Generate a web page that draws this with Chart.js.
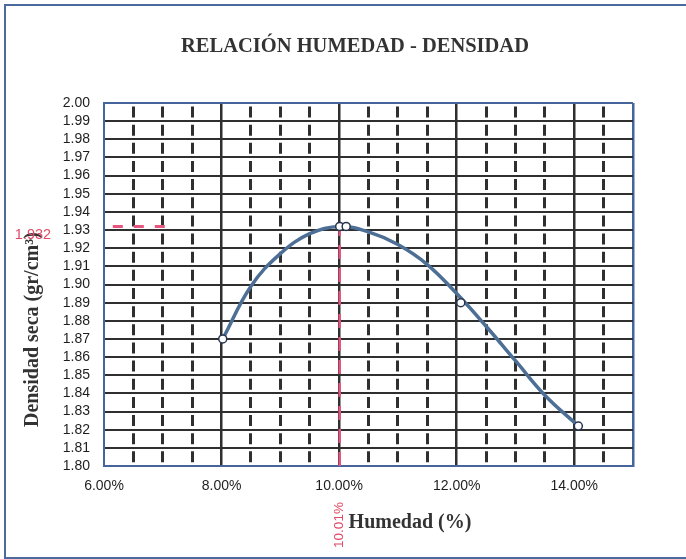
<!DOCTYPE html>
<html>
<head>
<meta charset="utf-8">
<script src="https://cdn.jsdelivr.net/npm/chart.js@4.4.1/dist/chart.umd.min.js"></script>
<style>
  html, body { margin:0; padding:0; background:#fff; overflow:hidden; }
  #wrap  { position:relative; width:686px; height:559px; }
  #frame { position:absolute; left:4px; top:4px; width:700px; height:555px; border:2px solid #4b6aa0; box-sizing:border-box; }
  canvas { position:absolute; left:0; top:0; }
</style>
</head>
<body>
<div id="wrap">
  <div id="frame"></div>
  <canvas id="chart" width="686" height="559"></canvas>
</div>
<script>
// ── Data ────────────────────────────────────────────────────
const humedad  = [8.02, 10.01, 10.12, 12.07, 14.07];      // puntos de ensayo (%)
const densidad = [1.870, 1.932, 1.932, 1.890, 1.822];      // gr/cm3

// curva de ajuste
const curvaHum  = [8.02, 8.5, 9.0, 9.5, 10.0, 10.5, 11.0, 11.5, 12.0, 12.5, 13.0, 13.5, 14.07];
const curvaDens = [1.870, 1.899, 1.917, 1.928, 1.932, 1.929, 1.922, 1.911, 1.895, 1.877, 1.858, 1.839, 1.822];

const humOptima  = 10.01;
const densMaxima = 1.932;
const marcaHum   = [6.15, 7.12];   // trazo rojo junto al eje y

const xTickVals = [6, 8, 10, 12, 14, 15];
const yMin = 1.80, yMax = 2.00, yStep = 0.01;
const xMin = 6, xMax = 15, xMinorStep = 0.5;

const TITULO  = 'RELACIÓN HUMEDAD - DENSIDAD';
const TIT_Y   = 'Densidad seca (gr/cm³)';
const TIT_X   = 'Humedad (%)';

// ── Styles ──────────────────────────────────────────────────
const C = { blue:'#45659c', grid:'#2f2f2f', line:'#4d6f96', mark:'#28344f', red:'#e8557e', redTxt:'#e04a66', txt:'#1e1e1e' };
const SANS  = '"Liberation Sans", Arial, sans-serif';
const SERIF = '"Liberation Serif", "Times New Roman", serif';

const pts = (xs, ys) => xs.map((x, i) => ({ x, y: ys[i] }));

const textos = {
  id: 'textos',
  afterDraw(chart) {
    const { ctx, scales: { x, y } } = chart;
    ctx.save();
    ctx.fillStyle = '#333';
    ctx.textAlign = 'center';
    ctx.textBaseline = 'middle';
    ctx.font = 'bold 20.5px ' + SERIF;
    ctx.fillText(TITULO, 355, 47);

    ctx.font = 'bold 20px ' + SERIF;
    ctx.fillText(TIT_X, 410, 523);

    // titulo eje y: empieza abajo en y=427
    ctx.save();
    ctx.textAlign = 'left';
    ctx.translate(33, 427);
    ctx.rotate(-Math.PI / 2);
    ctx.fillText(TIT_Y, 0, 0);
    ctx.restore();

    // anotaciones rojas
    ctx.fillStyle = C.redTxt;
    ctx.font = '14.5px ' + SANS;
    ctx.fillText(densMaxima.toFixed(3), 33, y.getPixelForValue(densMaxima) + 9);

    ctx.save();
    ctx.translate(x.getPixelForValue(humOptima), 525);
    ctx.rotate(-Math.PI / 2);
    ctx.font = '13.5px ' + SANS;
    ctx.fillText(humOptima.toFixed(2) + '%', 0, 0);
    ctx.restore();
    ctx.restore();
  }
};

new Chart(document.getElementById('chart'), {
  type: 'scatter',
  data: {
    datasets: [
      { data: pts(humedad, densidad), showLine:false, pointRadius:4, pointHoverRadius:4,
        pointBackgroundColor:'#fff', pointBorderColor:C.mark, pointBorderWidth:1.5, order:0 },
      { data: pts(curvaHum, curvaDens), showLine:true, borderColor:C.line, borderWidth:3.5,
        pointRadius:0, tension:0.4, order:1 },
      { data: pts([humOptima, humOptima], [yMin, densMaxima]), showLine:true, borderColor:C.red,
        borderWidth:2.5, borderDash:[14, 9], pointRadius:0, order:2 },
      { data: pts(marcaHum, [densMaxima, densMaxima]), showLine:true, borderColor:C.red,
        borderWidth:3, borderDash:[10, 11], pointRadius:0, order:2 },
    ]
  },
  options: {
    responsive: false,
    animation: false,
    layout: { padding: { left:0, top:103, right:53, bottom:0 } },
    plugins: { legend:{ display:false }, tooltip:{ enabled:false }, title:{ display:false } },
    scales: {
      x: {
        type:'linear', min:xMin, max:xMax, position:'bottom',
        afterFit: s => { s.height = 93; },
        afterBuildTicks: s => { s.ticks = xTickVals.map(v => ({ value:v })); },
        ticks: { autoSkip:false, maxRotation:0, padding:12, color:C.txt, font:{ family:SANS, size:14 },
                 callback: v => v === xMax ? '' : v.toFixed(2) + '%' },
        grid: { drawTicks:false, lineWidth:2.5,
                color: ctx => !ctx.tick ? C.grid : ctx.tick.value === xMin ? 'transparent' : ctx.tick.value === xMax ? C.blue : C.grid },
        border: { color:C.blue, width:2 },
      },
      x2: {
        type:'linear', min:xMin, max:xMax, position:'top',
        afterFit: s => { s.height = 0; },
        ticks: { display:false, stepSize:xMinorStep },
        grid: { drawTicks:false, lineWidth:3,
                color: ctx => (!ctx.tick || ctx.tick.value % 2 === 0 || ctx.tick.value === xMax) ? 'transparent' : C.grid },
        border: { display:false, dash:[11, 7.15], dashOffset:14.65 },
      },
      y: {
        min:yMin, max:yMax,
        afterFit: s => { s.width = 104; },
        ticks: { stepSize:yStep, autoSkip:false, padding:14, color:C.txt, font:{ family:SANS, size:14 },
                 callback: v => v.toFixed(2) },
        grid: { drawTicks:false, lineWidth:2,
                color: ctx => ctx.tick && Math.abs(ctx.tick.value - yMax) < 1e-6 ? C.blue : C.grid },
        border: { color:C.blue, width:2 },
      }
    }
  },
  plugins: [textos]
});
</script>
</body>
</html>
